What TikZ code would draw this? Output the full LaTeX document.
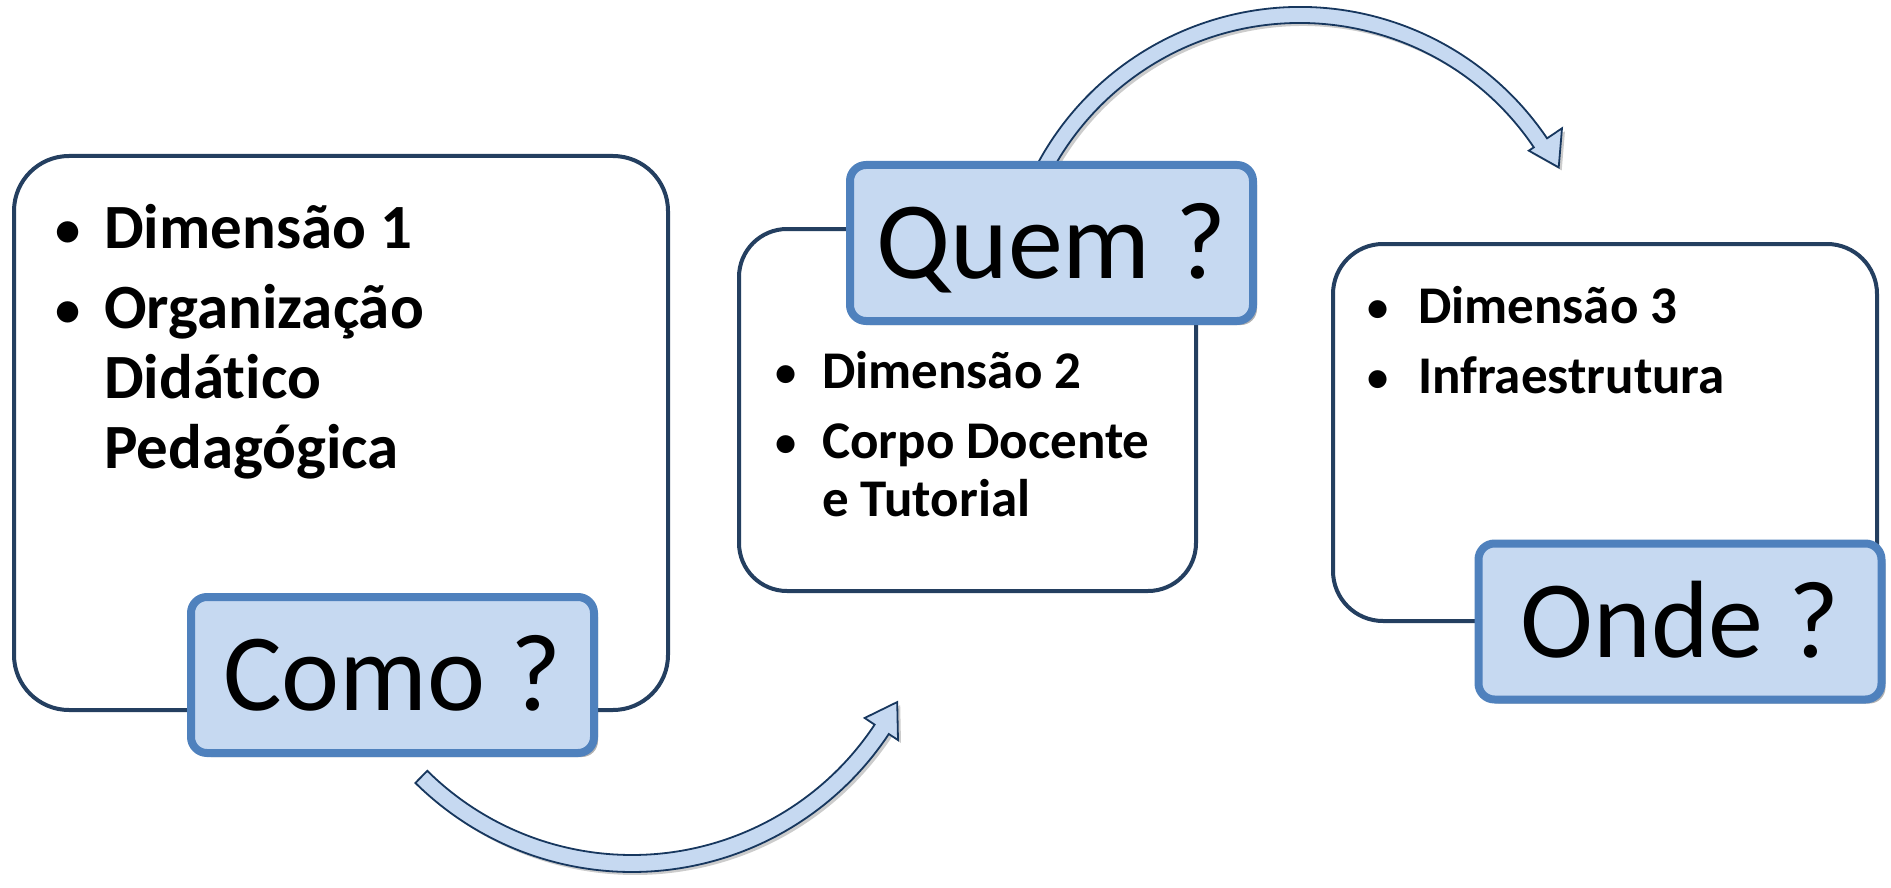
\documentclass[tikz,border=0pt]{standalone}
\usepackage{fontspec}
\usetikzlibrary{calc,shadows}
\newfontfamily\calfam[Ligatures=NoCommon]{Carlito}
\newcommand\listA{\calfam\bfseries\fontsize{63}{70}\selectfont}
\newcommand\listB{\calfam\bfseries\fontsize{53}{58}\selectfont}
\newcommand\tagfont{\calfam\fontsize{110}{120}\selectfont}
\definecolor{navy}{HTML}{243F60}
\definecolor{arrline}{HTML}{17375E}
\definecolor{tagline}{HTML}{4F81BD}
\definecolor{tagfill}{HTML}{C6D9F1}
\tikzset{
  card/.style={draw=navy, line width=4pt, fill=white, inner sep=0pt},
  tag/.style={draw=tagline, fill=tagfill, line width=8pt, rounded corners=16pt,
    minimum width=403pt, minimum height=156pt, inner sep=0pt, font=\tagfont,
    text height=71pt, text depth=0pt,
    drop shadow={shadow xshift=4pt, shadow yshift=-4pt, opacity=0.3, fill=black}},
  arrowshape/.style={draw=arrline, line width=1.8pt, fill=tagfill, line join=miter,
    drop shadow={shadow xshift=3pt, shadow yshift=-3pt, opacity=0.2, fill=black}},
  txtA/.style={font=\listA, anchor=base west, inner sep=0pt},
  bulA/.style={font=\listA, anchor=base, inner sep=0pt, scale=0.8, yshift=2pt},
  txtB/.style={font=\listB, anchor=base west, inner sep=0pt},
  bulB/.style={font=\listB, anchor=base, inner sep=0pt, scale=0.8, yshift=2pt},
}
\begin{document}
\begin{tikzpicture}[x=1pt,y=-1pt]
\useasboundingbox (0,0) rectangle (1891,888);
% cards
\node[card, rounded corners=55pt, minimum width=654pt, minimum height=554pt] (box1) at (341,433) {};
\node[card, rounded corners=48pt, minimum width=457pt, minimum height=362pt] (box2) at (967.5,410) {};
\node[card, rounded corners=50pt, minimum width=544pt, minimum height=377pt] (box3) at (1605,432.5) {};
% curved arrows
\coordinate (C1) at (632,564);
\coordinate (C2) at (1300,305);
\draw[arrowshape] ($(C1)+(134.7:308)$) arc[start angle=134.7,end angle=33.5,radius=308]
  -- ($(C1)+(33.5:319)$) -- ($(C1)+(27.5:299)$) -- ($(C1)+(33.5:279)$) -- ($(C1)+(33.5:291)$)
  arc[start angle=33.5,end angle=134.7,radius=291] -- cycle;
\draw[arrowshape] ($(C2)+(201:298)$) arc[start angle=201,end angle=326,radius=298]
  -- ($(C2)+(326:316)$) -- ($(C2)+(332:293)$) -- ($(C2)+(326:276)$) -- ($(C2)+(326:282)$)
  arc[start angle=326,end angle=201,radius=282] -- cycle;
% tags
\node[tag] (como) at (392.5,675) {Como ?};
\node[tag] (quem) at (1051.5,243) {Quem ?};
\node[tag] (onde) at (1680,621.5) {Onde ?};
% box 1 text
\node[bulA] (b11) at (68,248) {•};
\node[txtA] (t11) at (104,248) {Dimensão 1};
\node[bulA] (b12) at (68,328) {•};
\node[txtA] (t12) at (104,328) {Organização};
\node[txtA] (t13) at (104,398) {Didático};
\node[txtA] (t14) at (104,468) {Pedagógica};
% box 2 text
\node[bulB] (b21) at (786,388) {•};
\node[txtB] (t21) at (822,388) {Dimensão 2};
\node[bulB] (b22) at (786,458) {•};
\node[txtB] (t22) at (822,458) {Corpo Docente};
\node[txtB] (t23) at (822,516) {e Tutorial};
% box 3 text
\node[bulB] (b31) at (1378,323) {•};
\node[txtB] (t31) at (1418,323) {Dimensão 3};
\node[bulB] (b32) at (1378,393) {•};
\node[txtB] (t32) at (1418,393) {Infraestrutura};
\end{tikzpicture}
\end{document}
